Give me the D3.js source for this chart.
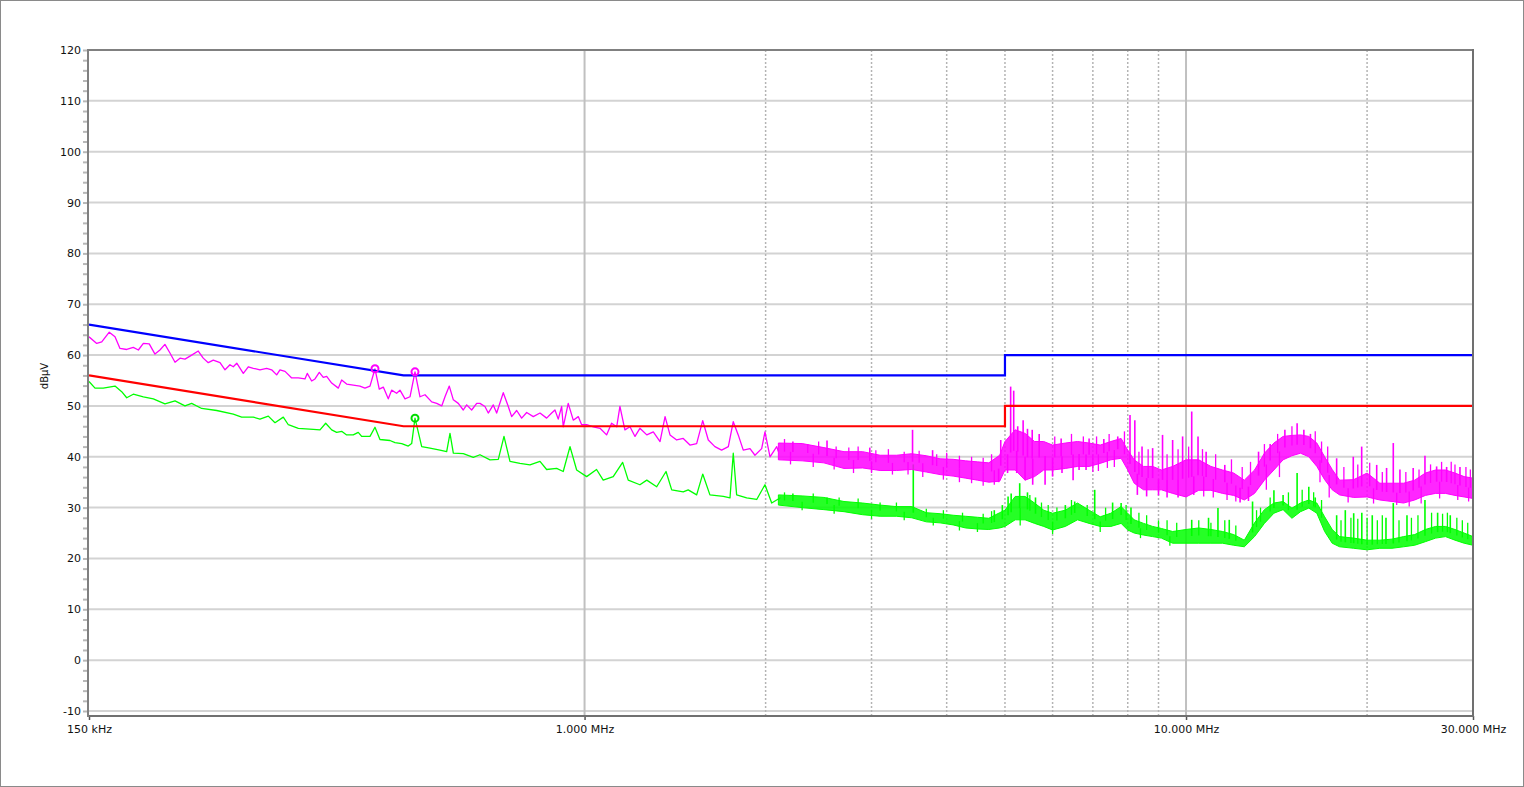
<!DOCTYPE html>
<html><head><meta charset="utf-8">
<script src="https://cdn.jsdelivr.net/npm/d3@7"></script>
<style>
body{margin:0;background:#fff;}
svg{display:block;font-family:"DejaVu Sans",Verdana,sans-serif;}
</style>
</head><body>
<svg id="c" width="1524" height="787"></svg>
<script>
// ---------- DATA (frequency in MHz, level in dBµV) ----------
const xTickValues = [0.15, 1, 10, 30];
const xTickLabels = ["150 kHz", "1.000 MHz", "10.000 MHz", "30.000 MHz"];
const gridSolidF = [1, 10];
const gridDottedF = [2, 3, 4, 5, 6, 7, 8, 9, 20];
const yMajorTicks = [-10, 0, 10, 20, 30, 40, 50, 60, 70, 80, 90, 100, 110, 120];
const yTitle = "dBµV";

const limitF = [0.15, 0.5, 5, 5, 30];
const qpLimit = [66, 56, 56, 60, 60];
const avLimit = [56, 46, 46, 50, 50];

// Peak trace, low-frequency part (line)
const peakF = [0.150,0.1545,0.1575,0.1621,0.1657,0.1689,0.1733,0.1777,0.1812,0.1847,0.1889,0.1931,0.1968,0.2006,0.2045,0.2085,0.2125,0.2166,0.2222,0.2279,0.2323,0.2368,0.2414,0.2477,0.2525,0.2573,0.2606,0.2641,0.2708,0.2760,0.2814,0.2886,0.2961,0.3018,0.3077,0.3116,0.3177,0.3259,0.3343,0.3429,0.3459,0.3518,0.3563,0.3622,0.3678,0.3726,0.3798,0.3896,0.3946,0.4022,0.4125,0.4232,0.4314,0.4398,0.4483,0.4557,0.4628,0.4717,0.4778,0.4870,0.4933,0.5029,0.5126,0.5225,0.5326,0.5429,0.5570,0.5678,0.5788,0.5861,0.5958,0.6051,0.6167,0.6286,0.6368,0.6491,0.6617,0.6700,0.6830,0.6917,0.7051,0.7143,0.7326,0.7468,0.7565,0.7712,0.7860,0.8013,0.8218,0.8431,0.8649,0.8817,0.8929,0.9042,0.9161,0.9216,0.9394,0.9577,0.9762,0.9889,1.008,1.034,1.061,1.088,1.109,1.131,1.145,1.167,1.190,1.213,1.236,1.269,1.301,1.335,1.361,1.387,1.423,1.459,1.497,1.536,1.572,1.606,1.647,1.690,1.734,1.767,1.801,1.836,1.884,1.920,1.970,1.995,2.034,2.087];
const peakV = [63.6,62.3,62.6,64.5,63.6,61.3,61.1,61.5,61.0,62.3,62.2,60.2,61.0,62.1,60.4,58.6,59.4,59.2,60.0,60.8,59.4,58.5,59.0,58.5,57.1,58.1,57.7,58.4,56.4,57.7,57.4,57.1,57.4,57.1,56.1,57.1,56.8,55.5,55.5,55.3,56.4,54.9,55.3,56.6,55.6,55.8,54.5,53.5,55.1,54.3,54.1,53.9,53.5,53.9,57.3,53.3,53.7,51.4,53.1,52.5,53.1,51.4,51.8,56.7,51.8,52.2,50.8,50.5,50.0,51.8,53.9,51.2,50.5,49.2,50.2,49.2,50.5,50.5,49.9,48.6,50.2,48.6,52.6,49.9,47.9,49.1,47.6,48.7,47.9,48.6,47.6,48.6,49.2,47.4,49.9,45.9,50.5,47.2,47.9,46.3,46.3,45.9,45.6,44.3,46.6,45.9,49.9,45.3,45.9,44.0,45.6,44.3,44.9,43.0,47.9,44.3,43.3,43.6,42.3,42.6,47.1,43.3,42.0,41.3,42.0,46.9,44.3,41.3,41.6,40.3,41.6,44.9,40.0,42.0];

// Average trace, low-frequency part (line)
const avgF = [0.150,0.1535,0.1584,0.1657,0.1700,0.1733,0.1777,0.1847,0.1919,0.2006,0.2085,0.2166,0.2222,0.2309,0.2446,0.2606,0.2691,0.2814,0.2886,0.2980,0.3057,0.3156,0.3217,0.3343,0.3540,0.3632,0.3712,0.3798,0.3871,0.3946,0.4022,0.4125,0.4205,0.4260,0.4398,0.4483,0.4569,0.4748,0.4840,0.4966,0.5092,0.5159,0.5225,0.5361,0.5533,0.5749,0.5899,0.5974,0.6051,0.6286,0.6532,0.6700,0.6963,0.7188,0.7346,0.7516,0.7809,0.8114,0.8431,0.8649,0.8987,0.9216,0.9458,0.9702,1.008,1.047,1.074,1.116,1.157,1.182,1.236,1.269,1.318,1.366,1.396,1.459,1.487,1.536,1.572,1.616,1.701,1.745,1.767,1.790,1.860,1.933,1.995,2.047,2.113];
const avgV = [54.8,53.5,53.5,53.9,52.8,51.6,52.3,51.8,51.4,50.4,51.0,50.0,50.5,49.5,49.1,48.4,47.8,47.8,47.4,48.0,46.7,47.8,46.3,45.6,45.4,45.3,46.6,45.3,44.8,45.0,44.3,44.3,44.8,44.0,44.0,45.8,43.4,43.2,42.8,42.6,42.1,42.6,47.6,42.0,41.7,41.3,41.0,44.6,40.7,40.6,39.9,40.4,39.4,39.5,44.0,39.1,38.7,38.4,39.1,37.5,37.7,37.1,42.0,37.4,36.1,37.5,35.4,36.1,38.9,35.4,34.5,35.4,34.1,37.1,33.5,33.1,33.5,32.5,36.6,32.5,32.2,31.9,40.7,32.5,31.9,31.6,34.5,30.9,31.9];

// High-frequency part: dense noise band (lower / upper envelope)
const bandF = [2.1,2.3,2.5,2.7,2.9,3.1,3.3,3.5,3.7,3.9,4.1,4.3,4.5,4.7,4.9,5.0,5.2,5.4,5.6,5.8,6.0,6.3,6.6,6.9,7.2,7.5,7.8,8.0,8.2,8.5,8.8,9.1,9.5,10.0,10.5,11.0,11.5,12.0,12.5,13.0,13.5,14.0,14.5,15.0,15.5,16.0,16.5,17.0,17.5,18.0,19.0,20.0,21.0,22.0,23.0,24.0,25.0,26.0,27.0,28.0,29.0,30.0];
const peakLo = [39.4,39.2,38.8,37.7,37.8,37.3,37.3,37.5,37.0,36.5,36.2,35.8,35.4,35.0,35.2,37.4,37.4,35.4,36.1,37.4,37.4,37.7,38.1,38.1,38.7,39.4,39.7,37.4,34.8,33.5,33.5,33.5,32.8,32.1,33.4,33.4,32.8,32.4,31.5,32.8,35.4,37.4,39.4,40.2,40.7,40.0,38.1,35.5,33.5,32.5,32.0,32.1,31.5,31.2,30.9,31.5,32.4,32.8,32.8,32.4,32.1,31.8];
const peakHi = [42.7,42.6,41.8,41.0,41.0,40.3,40.3,40.6,40.2,39.6,39.5,39.2,39.0,38.8,40.3,43.0,45.3,44.6,43.0,43.0,42.3,42.7,43.0,42.7,42.3,43.0,43.6,41.3,39.4,38.1,38.1,37.4,38.1,39.4,39.4,38.1,37.4,36.8,35.4,37.4,40.7,42.7,44.0,44.2,44.3,44.0,42.7,40.0,37.5,35.4,35.5,36.8,34.8,34.8,34.8,35.4,36.8,37.4,37.4,36.8,36.1,35.8];
const avgLo = [30.5,30.0,29.6,29.2,28.6,28.3,28.3,28.0,27.2,27.0,26.6,26.0,25.8,25.7,26.0,26.3,27.6,27.6,26.9,26.3,25.6,26.3,27.6,26.9,26.3,26.3,26.9,25.6,25.0,24.6,24.3,24.0,23.0,23.0,23.0,23.0,23.0,22.6,22.3,24.3,26.9,28.9,29.6,27.9,29.2,29.9,28.9,25.3,23.0,22.3,22.0,21.7,22.0,22.0,22.3,22.6,23.3,24.0,24.3,23.6,23.0,22.6];
const avgHi = [32.5,32.3,32.0,31.2,30.9,30.5,30.2,30.2,29.0,28.8,28.5,28.3,28.1,27.9,29.0,29.5,32.2,32.2,30.9,29.5,28.9,29.5,30.9,29.5,28.2,28.9,30.2,28.9,27.6,26.9,26.3,25.9,25.3,25.7,26.0,25.7,25.3,24.7,23.6,27.0,29.6,30.9,31.2,29.9,30.9,31.5,30.9,28.2,25.7,24.3,24.0,23.6,23.6,23.8,24.3,24.7,25.7,26.3,26.3,25.7,25.0,24.3];

// Isolated tall spikes (up) and dips (down) on the noise band
const peakSpikeF = [2.22,2.53,2.98,3.51,3.79,4.92,5.11,5.17,5.25,5.36,5.45,5.55,5.7,6.2,6.9,7.3,7.7,8.07,8.22,8.45,8.8,9.14,9.5,9.87,10.22,10.47,10.8,11.6,13.2,13.8,14.6,15.3,15.7,16.1,17.8,18.97,19.59,20.75,21.55,22.11,22.68,23.86,24.96,26.1,27.12,28.54];
const peakSpikeV = [43.0,43.2,41.8,45.3,41.3,43.3,53.8,53.0,46.0,47.2,45.5,45.3,44.5,43.6,43.6,43.5,44.0,48.2,47.2,42.0,41.7,44.3,43.3,44.0,48.9,44.0,41.0,38.4,41.0,42.5,45.3,46.6,45.3,44.5,39.7,40.0,42.0,38.4,37.8,42.7,37.5,37.8,40.2,38.1,38.0,38.0];
const peakDipF = [4.88,5.05,5.23,5.4,5.56,5.83,6.0,6.22,6.49,6.64,6.82,8.3,8.6,9.0,9.3,9.7,10.3,12.3,12.7];
const peakDipV = [35.0,36.8,36.8,35.4,34.5,34.5,36.1,36.8,35.4,37.4,37.4,32.5,32.2,32.4,32.0,32.0,32.5,31.0,31.3];
const avgSpikeF = [2.22,2.53,3.52,4.8,4.95,5.06,5.12,5.29,5.45,5.62,6.3,6.53,7.05,7.55,7.8,8.1,10.22,10.9,11.3,11.8,12.9,14.0,14.5,15.3,16.0,16.4,17.8,18.4,19.0,19.6,20.4,21.5,22.11,23.3,24.96,26.2,27.5];
const avgSpikeV = [32.8,32.0,38.5,29.5,30.5,32.2,32.8,34.8,33.0,32.0,30.5,31.2,33.5,31.0,30.9,30.0,27.6,28.0,29.9,27.6,31.2,33.4,32.5,36.8,34.1,32.0,28.5,29.5,28.9,29.0,28.5,28.0,30.9,28.5,31.5,29.0,28.5];

// Smaller ripple peaks and troughs along the band edges
const peakFineUpF = [2.15,2.35,2.45,2.62,2.75,2.85,3.05,3.2,3.4,3.6,3.85,4.0,4.2,4.4,4.6,4.75,6.05,6.45,6.75,7.1,7.45,7.9,8.35,8.65,9.3,9.7,10.1,10.65,11.2,11.9,12.4,12.8,13.5,14.2,15.0,16.4,16.8,17.2,18.3,19.3,20.2,21.2,23.2,24.4,25.5,26.6,27.6,28.0,29.2,29.7];
const peakFineUpV = [43.5,42.5,43.0,42.0,41.8,42.0,41.3,41.5,41.0,41.2,40.5,40.8,40.2,40.0,39.8,40.5,44.0,44.5,44.0,44.0,44.5,45.0,41.0,41.5,40.5,41.5,42.0,41.5,40.5,39.5,38.0,39.0,42.5,44.5,46.0,45.0,43.0,42.0,38.0,38.5,38.8,37.0,37.0,37.5,38.5,39.0,39.0,38.5,38.0,37.5];
const peakFineDownF = [2.2,2.4,2.6,2.8,3.0,3.25,3.45,3.65,3.95,4.2,4.4,4.6,4.8,7.0,7.15,7.4,7.6,10.7,11.1,11.7,12.1,13.6,14.3,16.7,17.3,18.6,20.5,22.4,23.5,24.6,26.4,28.3,29.5];
const peakFineDownV = [38.5,38.0,37.5,36.8,36.8,36.5,36.5,36.0,35.5,35.0,34.8,34.3,34.5,37.0,37.2,37.8,38.0,32.2,32.0,31.5,31.2,33.5,36.0,35.0,32.0,31.0,30.8,30.5,30.2,30.8,31.8,31.5,31.2];
const avgFineUpF = [2.15,2.4,2.65,2.85,3.1,3.3,3.7,3.95,4.25,4.6,4.75,5.5,5.75,5.9,6.1,6.45,6.85,7.35,7.95,8.35,8.6,9.0,9.3,9.65,10.5,11.0,11.6,12.1,13.1,13.3,13.8,14.8,15.6,16.3,16.8,18.1,18.8,19.3,20.0,20.8,21.2,22.6,23.7,24.3,25.6,26.7,27.2,28.2,28.8,29.4];
const avgFineUpV = [33.0,32.8,32.0,31.8,31.0,31.0,29.8,29.5,29.0,28.8,29.3,32.5,31.0,30.5,30.0,31.5,30.5,30.0,30.5,29.0,28.5,27.5,27.5,27.0,27.5,27.0,27.5,26.5,29.5,30.0,32.0,33.0,33.5,33.0,31.5,27.5,28.0,27.8,28.0,27.5,28.5,27.5,28.0,28.5,29.0,28.8,29.0,28.0,27.5,27.0];
const avgFineDownF = [2.3,2.6,3.0,3.4,3.8,4.2,4.5,5.3,6.0,7.2,8.4,9.4];
const avgFineDownV = [29.5,28.8,27.8,27.5,26.5,25.5,25.2,26.5,24.8,25.2,24.0,22.5];

// Markers
const peakMarkerF = [0.4483, 0.5225];
const peakMarkerV = [57.3, 56.7];
const avgMarkerF = [0.5225];
const avgMarkerV = [47.6];

// ---------- CHART ----------
const svg = d3.select("#c");
const L = 89, R = 1473, T = 50, B = 716;
const x = d3.scaleLog().domain([0.15, 30]).range([L, R]);
const y = d3.scaleLinear().domain([-10, 120]).range([711, T]);

const COL_PK = "#ff00ff", COL_AV = "#00ff00";

svg.append("rect").attr("x", 0.5).attr("y", 0.5).attr("width", 1523).attr("height", 786)
  .attr("fill", "#fff").attr("stroke", "#8a8a8a");

svg.append("defs").append("clipPath").attr("id", "clip")
  .append("rect").attr("x", L).attr("y", T).attr("width", R - L).attr("height", B - T);

// horizontal grid
svg.append("g").selectAll("line").data(yMajorTicks.filter(v => v < 120)).join("line")
  .attr("x1", L).attr("x2", R).attr("y1", d => y(d)).attr("y2", d => y(d))
  .attr("stroke", "#d3d3d3").attr("stroke-width", 2);
// vertical grid
svg.append("g").selectAll("line").data(gridDottedF).join("line")
  .attr("x1", d => x(d)).attr("x2", d => x(d)).attr("y1", T).attr("y2", B)
  .attr("stroke", "#b4b4b4").attr("stroke-width", 1.5).attr("stroke-dasharray", "2,2");
svg.append("g").selectAll("line").data(gridSolidF).join("line")
  .attr("x1", d => x(d)).attr("x2", d => x(d)).attr("y1", T).attr("y2", B)
  .attr("stroke", "#c0c0c0").attr("stroke-width", 2);

// y axis
const yAxis = d3.axisLeft(y).tickValues(d3.range(-10, 121, 2)).tickSize(6).tickPadding(2)
  .tickFormat(d => yMajorTicks.includes(d) ? String(d) : "");
const gy = svg.append("g").attr("transform", `translate(${L},0)`).call(yAxis);
gy.select(".domain").remove();
gy.selectAll(".tick line").attr("stroke", "#b8b8b8").attr("stroke-width", 2).attr("x2", -2).attr("x1", -6);
gy.selectAll(".tick text").attr("font-size", 11).attr("fill", "#111").attr("font-family", "DejaVu Sans, Verdana, sans-serif");

// x axis
const xAxis = d3.axisBottom(x).tickValues(xTickValues).tickSize(4).tickPadding(5)
  .tickFormat((d, i) => xTickLabels[i]);
const gx = svg.append("g").attr("transform", `translate(0,${B})`).call(xAxis);
gx.select(".domain").remove();
gx.selectAll(".tick line").attr("stroke", "#555").attr("stroke-width", 1.5);
gx.selectAll(".tick text").attr("font-size", 11).attr("fill", "#111").attr("font-family", "DejaVu Sans, Verdana, sans-serif");

// y title
svg.append("text").attr("transform", "translate(48,376) rotate(-90)")
  .attr("text-anchor", "middle").attr("font-size", 10).attr("fill", "#111").text(yTitle);

const plot = svg.append("g").attr("clip-path", "url(#clip)");

// helpers
const interp = (F, V, f) => {
  let i = d3.bisectRight(F, f) - 1;
  i = Math.max(0, Math.min(F.length - 2, i));
  const t = (Math.log(f) - Math.log(F[i])) / (Math.log(F[i + 1]) - Math.log(F[i]));
  return V[i] + (V[i + 1] - V[i]) * Math.max(0, Math.min(1, t));
};
const lineGen = d3.line().x(d => x(d[0])).y(d => y(d[1]));
const areaGen = d3.area().x(d => x(d.f)).y0(d => y(d.lo)).y1(d => y(d.hi));

function strokes(F, V, bLo, bHi, color, w) {
  plot.append("g").selectAll("line").data(F.map((f, i) => [f, V[i]])).join("line")
    .attr("x1", d => x(d[0])).attr("x2", d => x(d[0]))
    .attr("y1", d => y((interp(bandF, bLo, d[0]) + interp(bandF, bHi, d[0])) / 2))
    .attr("y2", d => y(d[1])).attr("stroke", color).attr("stroke-width", w);
}

function drawTrace(F, V, bLo, bHi, extra, color) {
  const band = bandF.map((f, i) => ({ f, lo: bLo[i], hi: bHi[i] }));
  plot.append("path").datum(band).attr("d", areaGen)
    .attr("fill", color).attr("fill-opacity", 0.85)
    .attr("stroke", color).attr("stroke-width", 1).attr("stroke-linejoin", "round");
  extra.forEach(e => strokes(e[0], e[1], bLo, bHi, color, e[2]));
  const pts = F.map((f, i) => [f, V[i]]);
  pts.push([bandF[0], (bLo[0] + bHi[0]) / 2]);
  plot.append("path").datum(pts).attr("d", lineGen)
    .attr("fill", "none").attr("stroke", color).attr("stroke-width", 1.3).attr("stroke-linejoin", "round");
}

drawTrace(avgF, avgV, avgLo, avgHi, [
  [avgSpikeF, avgSpikeV, 1.6], [avgFineUpF, avgFineUpV, 1.3], [avgFineDownF, avgFineDownV, 1.3]
], COL_AV);
drawTrace(peakF, peakV, peakLo, peakHi, [
  [peakSpikeF, peakSpikeV, 1.6], [peakDipF, peakDipV, 1.6],
  [peakFineUpF, peakFineUpV, 1.3], [peakFineDownF, peakFineDownV, 1.3]
], COL_PK);

// limit lines
plot.append("path").datum(limitF.map((f, i) => [f, avLimit[i]])).attr("d", lineGen)
  .attr("fill", "none").attr("stroke", "#ff0000").attr("stroke-width", 2.2);
plot.append("path").datum(limitF.map((f, i) => [f, qpLimit[i]])).attr("d", lineGen)
  .attr("fill", "none").attr("stroke", "#0000ff").attr("stroke-width", 2.2);

// markers
svg.append("g").selectAll("circle").data(peakMarkerF.map((f, i) => [f, peakMarkerV[i]])).join("circle")
  .attr("cx", d => x(d[0])).attr("cy", d => y(d[1])).attr("r", 3.5)
  .attr("fill", "none").attr("stroke", COL_PK).attr("stroke-width", 2);
svg.append("g").selectAll("circle").data(avgMarkerF.map((f, i) => [f, avgMarkerV[i]])).join("circle")
  .attr("cx", d => x(d[0])).attr("cy", d => y(d[1])).attr("r", 3.5)
  .attr("fill", "none").attr("stroke", "#00dd00").attr("stroke-width", 2);

// plot frame
svg.append("line").attr("x1", L).attr("x2", R).attr("y1", T).attr("y2", T).attr("stroke", "#808080").attr("stroke-width", 2);
svg.append("line").attr("x1", L).attr("x2", R + 1).attr("y1", B).attr("y2", B).attr("stroke", "#707070").attr("stroke-width", 2);
svg.append("line").attr("x1", L - 1).attr("x2", L - 1).attr("y1", T - 1).attr("y2", B + 1).attr("stroke", "#808080").attr("stroke-width", 2);
svg.append("line").attr("x1", R).attr("x2", R).attr("y1", T - 1).attr("y2", B + 1).attr("stroke", "#707070").attr("stroke-width", 2);
</script>
</body></html>
